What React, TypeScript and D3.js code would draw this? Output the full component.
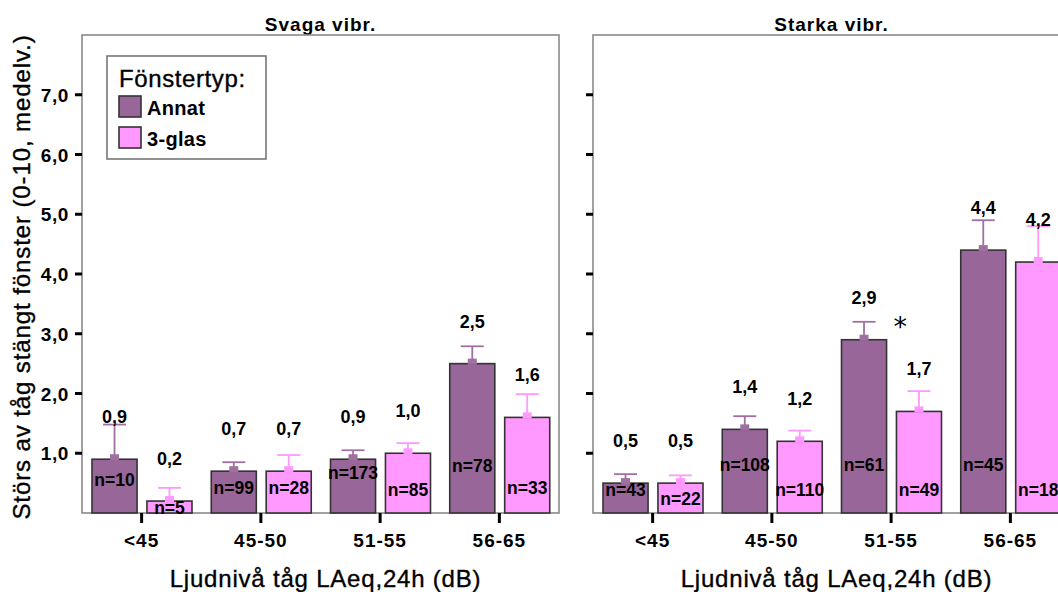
import React from "react";
import * as d3 from "d3";

// ---- data -------------------------------------------------------------
const categories = ["<45", "45-50", "51-55", "56-65"];
const windowTypes = ["Annat", "3-glas"];
const panelTitles = ["Svaga vibr.", "Starka vibr."];
const yTicks = [1, 2, 3, 4, 5, 6, 7];

// Svaga vibr. (weak vibrations)
const svagaAnnatMean = [0.9, 0.7, 0.9, 2.5];
const svagaAnnatUpper = [1.48, 0.85, 1.05, 2.79];
const svagaAnnatN = [10, 99, 173, 78];
const svaga3glasMean = [0.2, 0.7, 1.0, 1.6];
const svaga3glasUpper = [0.42, 0.97, 1.17, 1.99];
const svaga3glasN = [5, 28, 85, 33];

// Starka vibr. (strong vibrations)
const starkaAnnatMean = [0.5, 1.4, 2.9, 4.4];
const starkaAnnatUpper = [0.65, 1.62, 3.2, 4.9];
const starkaAnnatN = [43, 108, 61, 45];
const starka3glasMean = [0.5, 1.2, 1.7, 4.2];
const starka3glasUpper = [0.63, 1.38, 2.04, 4.8];
const starka3glasN = [22, 110, 49, 18];

// groups with a significant difference between window types, per panel
const significantGroups = [[], ["51-55"]];

// ---- layout -----------------------------------------------------------
const W = 1058;
const H = 592;
const panelLeft = [82, 593];
const panelWidth = 477;
const plotTop = 35;
const plotBottom = 513;

// vertical anchor (in scale units) of the "n=" labels inside the bars
const nLabelLevel = [
  [
    [0.56, 0.42, 0.67, 0.79],
    [0.09, 0.42, 0.39, 0.42],
  ],
  [
    [0.39, 0.82, 0.82, 0.82],
    [0.25, 0.4, 0.39, 0.39],
  ],
];

const fills = ["#996699", "#ff99ff"];
const whiskerColors = ["#a070a0", "#ff99ff"];
const frameColor = "#8a8a8a";
const barStroke = "#333333";
const sans = "'Liberation Sans', Arial, sans-serif";
const ink = "#000";
// slight outline to give the glyphs a heavier weight
const heavy = { stroke: ink, strokeWidth: 0.35 };

const panels = [
  {
    title: panelTitles[0],
    series: [
      { mean: svagaAnnatMean, upper: svagaAnnatUpper, n: svagaAnnatN },
      { mean: svaga3glasMean, upper: svaga3glasUpper, n: svaga3glasN },
    ],
  },
  {
    title: panelTitles[1],
    series: [
      { mean: starkaAnnatMean, upper: starkaAnnatUpper, n: starkaAnnatN },
      { mean: starka3glasMean, upper: starka3glasUpper, n: starka3glasN },
    ],
  },
];

const fmt = (v: number) => d3.format(".1f")(v).replace(".", ",");

const y = d3.scaleLinear().domain([0, 8]).range([plotBottom, plotTop]);

function Panel({ index }: { index: number }) {
  const p = panels[index];
  const left = panelLeft[index];
  const x = d3
    .scaleBand<string>()
    .domain(categories)
    .range([left, left + panelWidth])
    .padding(0);
  const inner = d3
    .scaleBand<string>()
    .domain(windowTypes)
    .range([10, 110])
    .paddingInner(0.18)
    .paddingOuter(0);
  const bw = inner.bandwidth();
  const capHalf = 11.5;

  return (
    <g>
      {/* title */}
      <text
        x={left + panelWidth / 2}
        y={31}
        textAnchor="middle"
        fontFamily={sans}
        fontWeight="bold"
        fontSize={19}
        letterSpacing={1}
        fill={ink}
      >
        {p.title}
      </text>

      {/* frame */}
      <rect
        x={left}
        y={plotTop}
        width={panelWidth}
        height={plotBottom - plotTop}
        fill="#fff"
        stroke={frameColor}
        strokeWidth={1.6}
      />

      {/* y ticks */}
      {yTicks.map((t) => (
        <g key={t}>
          <line
            x1={left - 7}
            x2={left}
            y1={y(t)}
            y2={y(t)}
            stroke="#000"
            strokeWidth={3}
          />
          {index === 0 && (
            <text
              x={left - 13}
              y={y(t) + 7}
              textAnchor="end"
              fontFamily={sans}
              fontWeight="bold"
              fontSize={19}
              letterSpacing={0.6}
              fill={ink}
            >
              {fmt(t)}
            </text>
          )}
        </g>
      ))}

      {/* bars */}
      {categories.map((c, ci) => (
        <g key={c}>
          {p.series.map((s, si) => {
            const x0 = (x(c) as number) + (inner(windowTypes[si]) as number);
            const cx = x0 + bw / 2;
            const top = y(s.mean[ci]);
            const errTop = y(s.upper[ci]);
            return (
              <g key={si}>
                <rect
                  x={x0}
                  y={top}
                  width={bw}
                  height={y(0) - top}
                  fill={fills[si]}
                  stroke={barStroke}
                  strokeWidth={1.6}
                />
                <line
                  x1={cx}
                  x2={cx}
                  y1={top}
                  y2={errTop}
                  stroke={whiskerColors[si]}
                  strokeWidth={1.8}
                />
                <line
                  x1={cx - capHalf}
                  x2={cx + capHalf}
                  y1={errTop}
                  y2={errTop}
                  stroke={whiskerColors[si]}
                  strokeWidth={1.8}
                />
                <rect
                  x={cx - 4.5}
                  y={top - 5}
                  width={9}
                  height={6}
                  fill={whiskerColors[si]}
                />
                <text
                  x={cx}
                  y={top - 36}
                  textAnchor="middle"
                  fontFamily={sans}
                  fontWeight="bold"
                  fontSize={18}
                  fill={ink}
                >
                  {fmt(s.mean[ci])}
                </text>
                <text
                  x={cx}
                  y={y(nLabelLevel[index][si][ci]) + 6.5}
                  textAnchor="middle"
                  fontFamily={sans}
                  fontWeight="bold"
                  fontSize={17.5}
                  fill={ink}
                >
                  {`n=${s.n[ci]}`}
                </text>
              </g>
            );
          })}
          {significantGroups[index].includes(c) && (
            <text
              x={(x(c) as number) + x.bandwidth() / 2 + 9}
              y={y(d3.max(p.series, (s) => s.upper[ci]) as number) + 14}
              textAnchor="middle"
              fontFamily="'DejaVu Sans', sans-serif"
              fontWeight="normal"
              fontSize={27}
              fill={ink}
            >
              *
            </text>
          )}
        </g>
      ))}

      {/* x ticks and labels */}
      {categories.map((c) => {
        const cx = (x(c) as number) + x.bandwidth() / 2;
        return (
          <g key={c}>
            <line
              x1={cx}
              x2={cx}
              y1={plotBottom}
              y2={plotBottom + 10}
              stroke="#000"
              strokeWidth={3}
            />
            <text
              x={cx}
              y={547}
              textAnchor="middle"
              fontFamily={sans}
              fontWeight="bold"
              fontSize={19}
              letterSpacing={1}
              fill={ink}
            >
              {c}
            </text>
          </g>
        );
      })}

      {/* x axis title */}
      <text
        x={left + panelWidth / 2 + 5}
        y={587}
        textAnchor="middle"
        fontFamily={sans}
        fontSize={24}
        letterSpacing={0.8}
        fill={ink}
        {...heavy}
      >
        Ljudnivå tåg LAeq,24h (dB)
      </text>
    </g>
  );
}

function Legend() {
  return (
    <g>
      <rect
        x={107}
        y={56}
        width={159}
        height={103}
        fill="#fff"
        stroke="#777"
        strokeWidth={1.6}
      />
      <text
        x={119}
        y={87}
        fontFamily={sans}
        fontSize={24}
        letterSpacing={0.6}
        fill={ink}
        {...heavy}
      >
        Fönstertyp:
      </text>
      {windowTypes.map((w, i) => (
        <g key={w}>
          <rect
            x={119}
            y={96 + i * 31}
            width={22}
            height={21}
            fill={fills[i]}
            stroke={barStroke}
            strokeWidth={1.6}
          />
          <text
            x={147}
            y={115 + i * 31}
            fontFamily={sans}
            fontWeight="bold"
            fontSize={20}
            letterSpacing={0.3}
            fill={ink}
          >
            {w}
          </text>
        </g>
      ))}
    </g>
  );
}

export default function App() {
  return (
    <svg
      width={W}
      height={H}
      viewBox={`0 0 ${W} ${H}`}
      style={{ position: "absolute", left: 0, top: 0, display: "block", background: "#fff" }}
    >
      <rect x={0} y={0} width={W} height={H} fill="#fff" />
      <Panel index={0} />
      <Panel index={1} />
      <Legend />
      <text
        transform={`translate(30, 277) rotate(-90)`}
        textAnchor="middle"
        fontFamily={sans}
        fontSize={24}
        letterSpacing={0.9}
        fill={ink}
        {...heavy}
      >
        Störs av tåg stängt fönster (0-10, medelv.)
      </text>
    </svg>
  );
}
